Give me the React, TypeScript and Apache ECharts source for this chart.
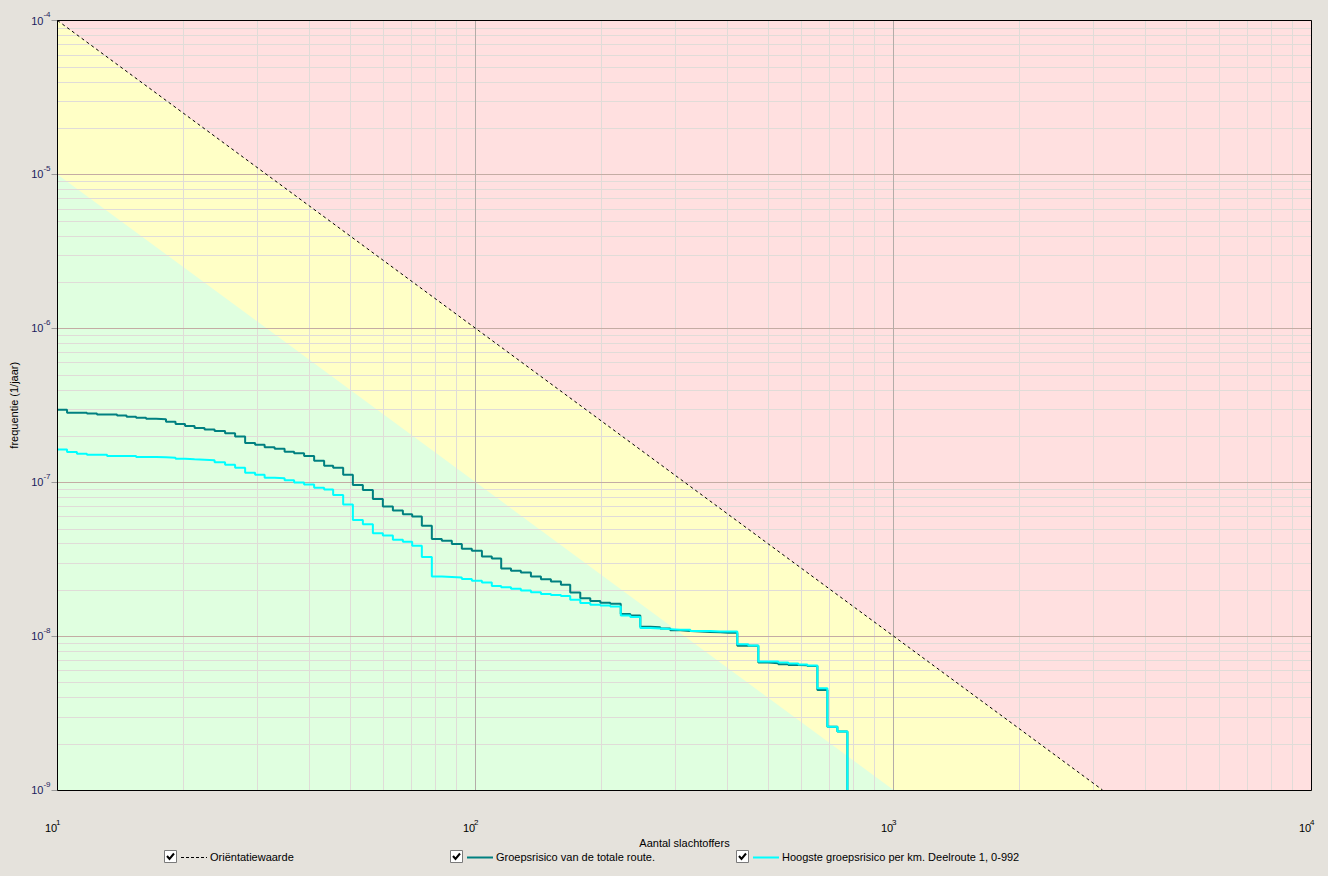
import React, { useEffect, useRef } from "react";
import * as echarts from "echarts";

const FONT = "'Liberation Sans', Arial, sans-serif";

const X_MIN = 10;
const X_MAX = 10000;
const Y_MIN = 1e-9;
const Y_MAX = 1e-4;

// Aantal slachtoffers (N) at which each step of the FN curves starts
const N_STEPS = [
  10, 10.54, 11.13, 11.76, 12.43, 13.14, 13.88, 14.63, 15.42, 16.29,
  17.21, 18.18, 19.16, 20.19, 21.28, 22.48, 23.76, 25.17, 26.6, 28.11,
  29.7, 31.3, 33.07, 34.94, 36.82, 38.9, 41.11, 43.44, 45.65, 48.24,
  50.89, 53.77, 56.82, 60.03, 63.44, 67.03, 70.55, 74.41, 78.62, 83.07,
  87.78, 92.75, 98.0, 103.6, 109.4, 115.2, 121.6, 128.4, 135.7, 143.4,
  151.5, 160.1, 168.5, 178.1, 188.2, 198.9, 210.1, 222.6, 234.6, 247.9,
  261.9, 276.7, 292.4, 309.0, 326.5, 345.0, 364.6, 385.2, 402.6, 423.0,
  449.4, 474.9, 501.8, 530.2, 560.2, 592.0, 622.2, 657.5, 694.7, 734.1,
  775.7,
];

// Groepsrisico van de totale route (frequentie 1/jaar)
const F_TOTAL = [
  2.96e-7, 2.83e-7, 2.83e-7, 2.79e-7, 2.75e-7, 2.75e-7, 2.71e-7, 2.66e-7, 2.62e-7, 2.58e-7,
  2.56e-7, 2.47e-7, 2.39e-7, 2.32e-7, 2.25e-7, 2.2e-7, 2.15e-7, 2.08e-7, 1.98e-7, 1.8e-7,
  1.75e-7, 1.69e-7, 1.65e-7, 1.58e-7, 1.54e-7, 1.48e-7, 1.38e-7, 1.28e-7, 1.24e-7, 1.12e-7,
  9.6e-8, 8.91e-8, 7.79e-8, 6.94e-8, 6.54e-8, 6.2e-8, 5.98e-8, 5.22e-8, 4.28e-8, 4.17e-8,
  3.97e-8, 3.7e-8, 3.59e-8, 3.29e-8, 3.19e-8, 2.75e-8, 2.66e-8, 2.59e-8, 2.44e-8, 2.34e-8,
  2.26e-8, 2.16e-8, 1.92e-8, 1.76e-8, 1.69e-8, 1.65e-8, 1.62e-8, 1.39e-8, 1.36e-8, 1.15e-8,
  1.14e-8, 1.12e-8, 1.09e-8, 1.08e-8, 1.07e-8, 1.065e-8, 1.06e-8, 1.05e-8, 1.05e-8, 8.64e-9,
  8.64e-9, 6.73e-9, 6.67e-9, 6.57e-9, 6.5e-9, 6.47e-9, 6.4e-9, 4.47e-9, 2.58e-9, 2.4e-9,
  1e-9,
];

// Hoogste groepsrisico per km. Deelroute 1, 0-992
const F_KM = [
  1.63e-7, 1.57e-7, 1.53e-7, 1.51e-7, 1.51e-7, 1.48e-7, 1.48e-7, 1.48e-7, 1.46e-7, 1.46e-7,
  1.45e-7, 1.44e-7, 1.42e-7, 1.41e-7, 1.4e-7, 1.39e-7, 1.35e-7, 1.3e-7, 1.24e-7, 1.15e-7,
  1.12e-7, 1.07e-7, 1.06e-7, 1.03e-7, 9.94e-8, 9.65e-8, 9.22e-8, 8.98e-8, 8.27e-8, 7.17e-8,
  5.69e-8, 5.33e-8, 4.66e-8, 4.5e-8, 4.22e-8, 4.11e-8, 3.86e-8, 3.26e-8, 2.44e-8, 2.42e-8,
  2.4e-8, 2.35e-8, 2.29e-8, 2.23e-8, 2.12e-8, 2.08e-8, 2.03e-8, 1.98e-8, 1.93e-8, 1.88e-8,
  1.85e-8, 1.82e-8, 1.72e-8, 1.64e-8, 1.6e-8, 1.58e-8, 1.56e-8, 1.36e-8, 1.33e-8, 1.13e-8,
  1.12e-8, 1.11e-8, 1.1e-8, 1.1e-8, 1.08e-8, 1.08e-8, 1.07e-8, 1.07e-8, 1.07e-8, 8.86e-9,
  8.68e-9, 6.83e-9, 6.83e-9, 6.73e-9, 6.63e-9, 6.53e-9, 6.43e-9, 4.59e-9, 2.58e-9, 2.4e-9,
  1e-9,
];

// Oriëntatiewaarde (end points of the norm line)
const ORIENT_N = [10, 3162.28];
const ORIENT_F = [1e-4, 1e-9];
// lower boundary (factor 10 below the orientatiewaarde)
const LOWER_N = [10, 1000];
const LOWER_F = [1e-5, 1e-9];

// minor grid
const MINOR_MULT = [2, 3, 4, 5, 6, 7, 8, 9];
const X_DECADES = [10, 100, 1000];
const Y_DECADES = [1e-9, 1e-8, 1e-7, 1e-6, 1e-5];

const LEGEND_NAMES = [
  "Oriëntatiewaarde",
  "Groepsrisico van de totale route.",
  "Hoogste groepsrisico per km. Deelroute 1, 0-992",
];
const LEGEND_COLORS = ["#000000", "#008080", "#00ffff"];

const X_MINOR: number[] = [];
X_DECADES.forEach((d) => MINOR_MULT.forEach((m) => X_MINOR.push(m * d)));
const Y_MINOR: number[] = [];
Y_DECADES.forEach((d) => MINOR_MULT.forEach((m) => Y_MINOR.push(m * d)));

const GRID = { left: 57.5, top: 20.5, width: 1254, height: 769.5 };

function supLabel(v: number) {
  return `{b|10}{s|${Math.round(Math.log10(v))}}`;
}

export default function App() {
  const ref = useRef<HTMLDivElement>(null);

  useEffect(() => {
    if (!ref.current) return;
    const chart = echarts.init(ref.current, null, { renderer: "svg" });

    const minorColor = "#e0dcd8";

    const legendBoxX = [164, 450, 736];
    const legendGraphics: any[] = [];
    LEGEND_NAMES.forEach((name, i) => {
      const bx = legendBoxX[i];
      legendGraphics.push({
        type: "rect",
        shape: { x: bx + 0.5, y: 850.5, width: 12, height: 12 },
        style: { fill: "#ffffff", stroke: "#7a7a7a", lineWidth: 1 },
        z: 10,
      });
      legendGraphics.push({
        type: "polyline",
        shape: { points: [[bx + 3, 856], [bx + 5.5, 859], [bx + 10, 853.5]] },
        style: { stroke: "#000000", lineWidth: 2, fill: null },
        z: 11,
      });
      legendGraphics.push({
        type: "line",
        shape: { x1: bx + 17, y1: 857.5, x2: bx + 43, y2: 857.5 },
        style: {
          stroke: LEGEND_COLORS[i],
          lineWidth: i === 0 ? 1 : 2,
          lineDash: i === 0 ? [3, 2] : null,
        },
        z: 10,
      });
      legendGraphics.push({
        type: "text",
        x: bx + 46,
        y: 857,
        style: {
          text: name,
          fontSize: 11,
          fontFamily: FONT,
          fill: "#000000",
          verticalAlign: "middle",
          align: "left",
        },
        z: 10,
      });
    });

    const option: any = {
      animation: false,
      backgroundColor: "#e5e2dc",
      grid: {
        ...GRID,
        show: true,
        backgroundColor: "#ffe0e0",
        borderWidth: 0,
        containLabel: false,
        outerBoundsMode: "none",
      },
      xAxis: {
        type: "log",
        logBase: 10,
        min: X_MIN,
        max: X_MAX,
        z: 3,
        axisLine: { show: false },
        axisTick: { show: false },
        minorTick: { show: false },
        splitLine: { show: true, lineStyle: { color: "#b4aca8", width: 1 } },
        axisLabel: {
          show: true,
          margin: 28,
          align: "right",
          color: "#000000",
          fontFamily: FONT,
          formatter: supLabel,
          rich: {
            b: { fontSize: 11, fontFamily: FONT, color: "#000000", width: 11, align: "left" },
            s: { fontSize: 8, fontFamily: FONT, color: "#000000", width: 1.5, align: "left", padding: [0, 0, 11, 0] },
          },
        },
        name: "Aantal slachtoffers",
        nameLocation: "middle",
        nameGap: 47,
        nameMoveOverlap: false,
        nameTextStyle: { fontSize: 11, fontFamily: FONT, color: "#000000" },
      },
      yAxis: {
        type: "log",
        logBase: 10,
        min: Y_MIN,
        max: Y_MAX,
        z: 3,
        axisLine: { show: false },
        axisTick: { show: true, length: 6, lineStyle: { color: "#9a9a9a", width: 1 } },
        minorTick: { show: false },
        splitLine: { show: true, lineStyle: { color: "#c4aca4", width: 1 } },
        axisLabel: {
          show: true,
          margin: 7,
          color: "#1c1c5c",
          fontFamily: FONT,
          formatter: supLabel,
          rich: {
            b: { fontSize: 11, fontFamily: FONT, color: "#1c1c5c", align: "left" },
            s: { fontSize: 8, fontFamily: FONT, color: "#1c1c5c", align: "left", padding: [0, 0, 12, 0] },
          },
        },
        name: "frequentie (1/jaar)",
        nameLocation: "middle",
        nameGap: 38,
        nameRotate: 90,
        nameMoveOverlap: false,
        nameTextStyle: { fontSize: 11, fontFamily: FONT, color: "#000000" },
      },
      graphic: [
        ...legendGraphics,
        {
          type: "rect",
          shape: { x: 57.5, y: 20.5, width: 1254, height: 770 },
          style: { fill: null, stroke: "#000000", lineWidth: 1 },
          z: 20,
          silent: true,
        },
      ],
      series: [
        {
          name: "geel",
          type: "line",
          data: ORIENT_N.map((n, i) => [n, ORIENT_F[i]]),
          symbol: "none",
          lineStyle: { width: 0, opacity: 0 },
          areaStyle: { color: "#ffffc6", opacity: 1, origin: "start" },
          z: 1,
          silent: true,
        },
        {
          name: "groen",
          type: "line",
          data: LOWER_N.map((n, i) => [n, LOWER_F[i]]),
          symbol: "none",
          lineStyle: { width: 0, opacity: 0 },
          areaStyle: { color: "#e0ffe0", opacity: 1, origin: "start" },
          z: 1,
          silent: true,
        },
        {
          name: "minorX",
          type: "custom",
          data: X_MINOR.map((v) => [v, Y_MIN]),
          encode: { x: 0, y: 1 },
          z: 2,
          silent: true,
          renderItem: (params: any, api: any) => {
            const v = api.value(0);
            const a = api.coord([v, Y_MIN]);
            const b = api.coord([v, Y_MAX]);
            const x = Math.round(a[0]) + 0.5;
            return {
              type: "line",
              shape: { x1: x, y1: b[1], x2: x, y2: a[1] },
              style: { stroke: minorColor, lineWidth: 1 },
            };
          },
        },
        {
          name: "minorY",
          type: "custom",
          data: Y_MINOR.map((v) => [X_MIN, v]),
          encode: { x: 0, y: 1 },
          z: 2,
          silent: true,
          renderItem: (params: any, api: any) => {
            const v = api.value(1);
            const a = api.coord([X_MIN, v]);
            const b = api.coord([X_MAX, v]);
            const y = Math.round(a[1]) + 0.5;
            return {
              type: "line",
              shape: { x1: a[0], y1: y, x2: b[0], y2: y },
              style: { stroke: minorColor, lineWidth: 1 },
            };
          },
        },
        {
          name: "Oriëntatiewaarde",
          type: "line",
          data: ORIENT_N.map((n, i) => [n, ORIENT_F[i]]),
          symbol: "none",
          lineStyle: { color: "#000000", width: 1, type: [3, 3] },
          z: 4,
          silent: true,
        },
        {
          name: LEGEND_NAMES[1],
          type: "line",
          step: "end",
          data: N_STEPS.map((n, i) => [n, F_TOTAL[i]]),
          symbol: "none",
          lineStyle: { color: "#008080", width: 2 },
          z: 5,
        },
        {
          name: LEGEND_NAMES[2],
          type: "line",
          step: "end",
          data: N_STEPS.map((n, i) => [n, F_KM[i]]),
          symbol: "none",
          lineStyle: { color: "#00ffff", width: 2 },
          z: 6,
        },
      ],
    };

    chart.setOption(option);
    return () => chart.dispose();
  }, []);

  return (
    <div
      style={{
        position: "fixed",
        left: 0,
        top: 0,
        width: 1328,
        height: 876,
        background: "#e5e2dc",
      }}
    >
      <div ref={ref} style={{ width: 1328, height: 876 }} />
    </div>
  );
}
